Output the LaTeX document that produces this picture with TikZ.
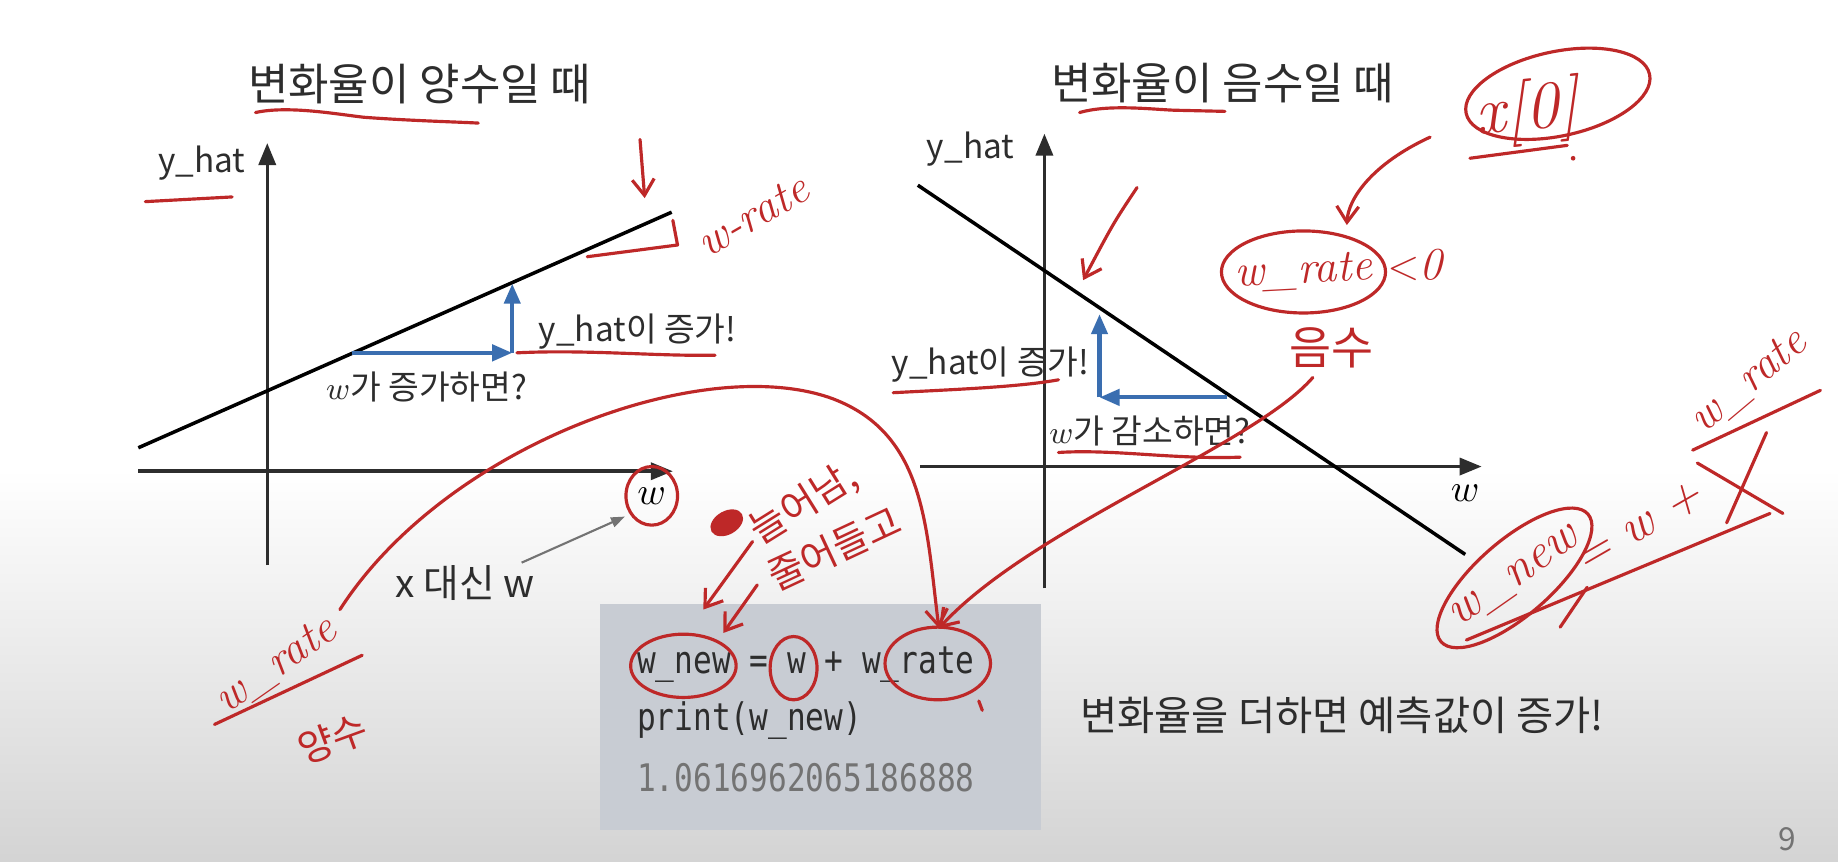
\documentclass[tikz,border=0pt]{standalone}
\usepackage{fontspec}
\newfontfamily\krfont{Noto Sans CJK KR}
\newfontfamily\codefont[FakeStretch=0.82]{DejaVu Sans Mono}
\usetikzlibrary{arrows.meta,positioning}
\definecolor{ink}{RGB}{45,45,45}
\definecolor{penred}{RGB}{190,40,40}
\definecolor{arrowblue}{RGB}{58,110,176}
\definecolor{codebg}{RGB}{200,204,211}

\begin{document}
\begin{tikzpicture}[x=0.011722cm,y=-0.011722cm,
  axis/.style={ink,line width=1pt,-{Triangle[width=0.17cm,length=0.22cm]}},
  graph/.style={black,line width=1pt},
  bluearr/.style={arrowblue,line width=1.2pt,-{Triangle[width=0.16cm,length=0.2cm]}},
  title/.style={ink,font=\krfont\fontsize{12.5}{14}\selectfont},
  lbl/.style={ink,font=\krfont\fontsize{9.5}{11}\selectfont},
  code/.style={anchor=west,inner sep=0pt,font=\codefont\fontsize{10.8}{12}\selectfont},
  redpen/.style={penred,line width=0.9pt,line cap=round,line join=round},
  redtip/.style={redpen,-{Straight Barb[length=0.16cm,width=0.22cm]}},
  hand/.style={penred,inner sep=1pt,font=\itshape\fontsize{13}{15}\selectfont},
  handkr/.style={penred,inner sep=1pt,font=\krfont\fontsize{11}{13}\selectfont}]

% slide background
\fill[white] (0,0) rectangle (1568,735);
\shade[top color=white,bottom color=black!17] (0,400) rectangle (1568,735);
\useasboundingbox (0,0) rectangle (1568,735);

% ---- left chart: positive rate
\node[title] (ltitle) at (358,72) {변화율이 양수일 때};
\coordinate (lyb) at (228,482);
\coordinate (lyt) at (228,122);
\coordinate (lxl) at (118,402);
\coordinate (lxr) at (574,402);
\draw[axis] (lyb) -- (lyt);
\draw[axis] (lxl) -- (lxr);
\node[lbl] (lyhat) at (172,139) {y\_hat};
\node (lw) at (556,423) {\fontsize{11}{12}\selectfont$w$};
\coordinate (lline0) at (118,382);
\coordinate (lline1) at (573,181);
\draw[graph] (lline0) -- (lline1);
\coordinate (lp0) at (300,301);
\coordinate (lp1) at (437,301);
\coordinate (lp2) at (437,242);
\draw[bluearr] (lp0) -- (lp1);
\draw[bluearr] (lp1) -- (lp2);
\node[lbl,anchor=west] (linc) at (449,283) {y\_hat이 증가!};
\node[lbl] (lwinc) at (364,330) {$w$가 증가하면?};
\node[ink,font=\krfont\fontsize{11}{13}\selectfont] (xw) at (397,497) {x 대신 w};
\coordinate (xwtail) at (445,480);
\draw[black!55,line width=0.6pt,-{Triangle[width=0.1cm,length=0.14cm]}] (xwtail) -- (lw.south west);

% ---- right chart: negative rate
\node[title] (rtitle) at (1043,71) {변화율이 음수일 때};
\coordinate (ryb) at (891,502);
\coordinate (ryt) at (891,114);
\coordinate (rxl) at (785,398);
\coordinate (rxr) at (1264,398);
\draw[axis] (ryb) -- (ryt);
\draw[axis] (rxl) -- (rxr);
\node[lbl] (ryhat) at (828,127) {y\_hat};
\node (rw) at (1250,421) {\fontsize{11}{12}\selectfont$w$};
\coordinate (rline0) at (783,158);
\coordinate (rline1) at (1250,473);
\draw[graph] (rline0) -- (rline1);
\coordinate (rp0) at (1047,339);
\coordinate (rp1) at (938,339);
\coordinate (rp2) at (938,268);
\draw[bluearr] (rp0) -- (rp1);
\draw[bluearr] (rp1) -- (rp2);
\node[lbl] (rinc) at (845,311) {y\_hat이 증가!};
\node[lbl] (rwdec) at (981,368) {$w$가 감소하면?};

% ---- code cell
\fill[codebg] (512,515) rectangle (888,708);
\node[code,ink] (c1) at (543,567) {w\_new = w + w\_rate};
\node[code,ink] (c2) at (543,615) {print(w\_new)};
\node[code,black!55] (c3) at (543,663) {1.0616962065186888};

\node[ink,font=\krfont\fontsize{11.5}{13}\selectfont] (summary) at (1145,610) {변화율을 더하면 예측값이 증가!};
\node[black!55,font=\krfont\fontsize{9}{10}\selectfont] (pageno) at (1525,716) {9};

% ---- pen notes, left
\draw[redpen] (218,96) .. controls (245,90) and (285,97) .. (310,100) .. controls (350,103) and (390,104) .. (408,105);
\draw[redpen] (124,172) -- (198,168);
\draw[redtip] (546,119) -- (550,169);
\draw[redpen] (501,219) -- (578,209) -- (574,188);
\node[hand,rotate=30] (lrate) at (642,184) {w-rate};
\draw[redpen] (441,301) .. controls (500,298) and (560,304) .. (610,303);
\draw[redpen] (lw) ellipse [x radius=22, y radius=25];

\node[hand,rotate=35] (lrate2) at (236,568) {w\_rate};
\draw[redpen] (183,618) -- (309,559);
\node[handkr,rotate=20] (lpos) at (284,630) {양수};
\coordinate (cw1) at (801,536);
\draw[redtip] (290,520) .. controls (380,380) and (600,300) .. (710,340) .. controls (790,370) and (790,450) .. (cw1);

\fill[penred,rotate around={30:(620,446)}] (620,446) ellipse [x radius=15, y radius=10];
\node[handkr,rotate=32] (up) at (686,430) {늘어남,};
\node[handkr,rotate=25] (down) at (712,468) {줄어들고};
\draw[redtip] (642,462) -- (600,520);
\draw[redtip] (646,499) -- (617,540);

\draw[redpen] (583,568) ellipse [x radius=45, y radius=27];
\draw[redpen] (677,570) ellipse [x radius=20, y radius=27];
\draw[redpen] (800,566) ellipse [x radius=45, y radius=31];
\draw[redpen] (835,598) -- (838,606);

% ---- pen notes, right
\draw[redpen] (921,96) .. controls (945,89) and (980,93) .. (1001,94) -- (1045,95);
\draw[redpen] (762,335) .. controls (820,332) and (870,330) .. (903,324);
\draw[redpen] (903,386) .. controls (950,383) and (1000,392) .. (1058,390);
\draw[redtip] (970,160) .. controls (950,190) .. (924,239);

\draw[redpen,rotate around={12:(1329,80)}] (1329,80) ellipse [x radius=80, y radius=36];
\node[hand,font=\itshape\fontsize{19}{21}\selectfont,rotate=6] (x0) at (1303,96) {x[0]};
\draw[redpen] (1254,135) -- (1337,124);
\fill[penred] (1342,135) circle (2);

\node[hand,rotate=3] (rrate) at (1112,232) {w\_rate};
\draw[redpen] (rrate) ellipse [x radius=70, y radius=35];
\node[hand] (lt0) at (1207,226) {$<$0};
\draw[redtip] (1220,117) .. controls (1170,140) and (1150,170) .. (1149,192);
\node[handkr,font=\krfont\fontsize{13}{15}\selectfont] (rneg) at (1136,297) {음수};
\draw[redtip] (1120,322) .. controls (1070,380) and (880,450) .. (cw1);

\node[hand,font=\itshape\fontsize{14}{16}\selectfont,rotate=35] (rnew) at (1293,494) {w\_new};
\draw[redpen,rotate around={41:(1292,493)}] (1292,493) ellipse [x radius=83, y radius=32];
\node[hand,font=\itshape\fontsize{14}{16}\selectfont,rotate=30] (eq) at (1398,450) {= w +};
\node[hand,rotate=40] (rrate2) at (1492,326) {w\_rate};
\draw[redpen] (1444,384) -- (1553,333);
\draw[redpen] (1448,395) -- (1521,438);
\draw[redpen] (1507,369) -- (1473,446);
\draw[redpen] (1251,546) -- (1510,438);
\draw[redpen] (1331,535) -- (1354,501);
\end{tikzpicture}
\end{document}
